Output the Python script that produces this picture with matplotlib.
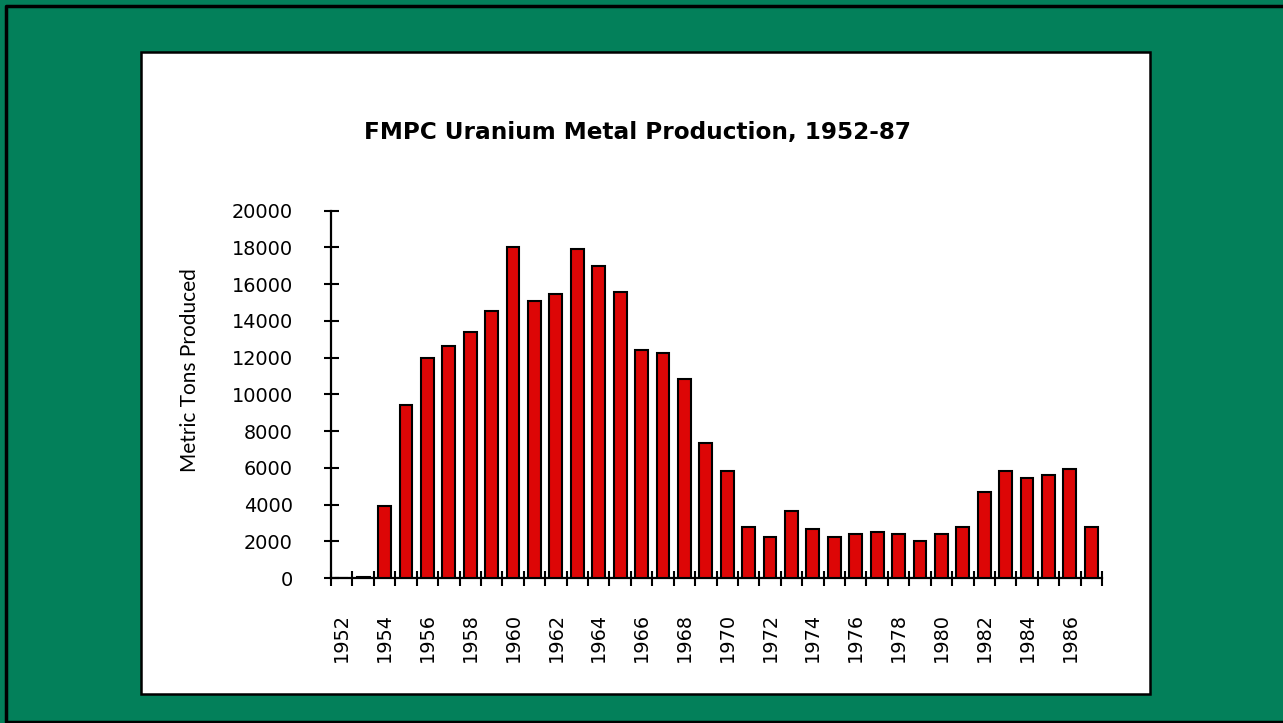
import numpy as np
import matplotlib
matplotlib.use('Agg')
import matplotlib.pyplot as plt
from matplotlib.patches import Rectangle
from matplotlib.lines import Line2D

# FMPC uranium metal production, metric tons, 1952-1987
years = list(range(1952, 1988))
tons = [0, 80, 3900, 9400, 12000, 12650, 13400, 14550, 18000, 15100,
        15450, 17900, 17000, 15600, 12400, 12250, 10850, 7350, 5850, 2750,
        2250, 3650, 2650, 2250, 2400, 2500, 2400, 2000, 2400, 2750,
        4700, 5850, 5450, 5600, 5950, 2750]
yticks = list(range(0, 20001, 2000))

W, H = 1283, 723
fig = plt.figure(figsize=(W / 100, H / 100), dpi=100)
fig.patch.set_facecolor('#03805A')

# dark frame on top, left and bottom edges
fig.lines.append(Line2D([1, 6 / W, 6 / W, 1], [1 - 5.5 / H, 1 - 5.5 / H, 1 / H, 1 / H],
                        transform=fig.transFigure, color='black', linewidth=2.5, zorder=-10))
# white panel (drawn under the axes)
fig.patches.append(Rectangle((141 / W, (H - 694) / H), (1150 - 141) / W, (694 - 52) / H,
                             transform=fig.transFigure, facecolor='white',
                             edgecolor='black', linewidth=1.8, zorder=-10))

ax = fig.add_axes([331 / W, (H - 578) / H, (1102 - 331) / W, (578 - 210.7) / H])
ax.set_facecolor('none')

x = np.arange(len(years))
ax.bar(x, tons, width=0.6, color='#DD0606', edgecolor='black', linewidth=1.5, zorder=3)

ax.set_xlim(-0.5, len(years) - 0.5)
ax.set_ylim(0, 20000)

for s in ['top', 'right']:
    ax.spines[s].set_visible(False)
for s in ['left', 'bottom']:
    ax.spines[s].set_linewidth(1.6)

ax.set_yticks(yticks)
ax.set_yticklabels([str(v) for v in yticks])
ax.tick_params(axis='y', direction='inout', length=10.8, width=1.5, pad=22, labelsize=13.9)

# ticks at category boundaries, labels at every other category center
ax.set_xticks(np.arange(-0.5, len(years), 1.0))
ax.set_xticklabels([])
ax.set_xticks(x[::2], minor=True)
ax.set_xticklabels([str(y) for y in years[::2]], minor=True, rotation=90)
ax.tick_params(axis='x', which='major', direction='inout', length=10.8, width=1.5)
ax.tick_params(axis='x', which='minor', length=0, pad=25, labelsize=13.9)

fig.text(0.4965, (H - 133) / H, 'FMPC Uranium Metal Production, 1952-87',
         ha='center', va='center', fontsize=16.7, fontweight='bold')
fig.text(190 / W, (H - 370) / H, 'Metric Tons Produced', rotation=90,
         ha='center', va='center', fontsize=15, family='Lato')

fig.savefig('out.png', dpi=100, facecolor=fig.get_facecolor())
